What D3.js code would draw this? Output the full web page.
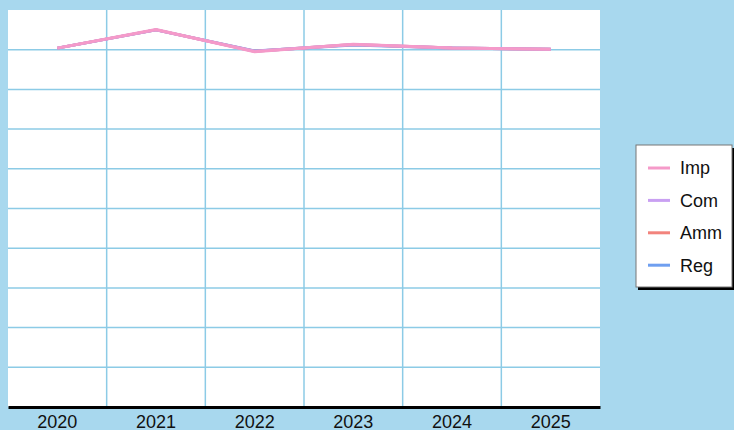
<!DOCTYPE html>
<html><head><meta charset="utf-8">
<script src="https://cdn.jsdelivr.net/npm/d3@7"></script>
<style>
html,body{margin:0;padding:0;background:#a8d8ee;}
svg{display:block;font-family:"Liberation Sans",Arial,sans-serif;}
</style></head>
<body>
<svg id="c" width="734" height="430"></svg>
<script>
const years = ["2020","2021","2022","2023","2024","2025"];
const seriesNames = ["Imp","Com","Amm","Reg"];
const seriesColors = ["#f59ac9","#c9a0f2","#f2837c","#6f9ff0"];
const impValues = [90.4, 95.1, 89.5, 91.4, 90.4, 90.1];
const comValues = [90.4, 95.0, 89.6, 91.3, 90.4, 90.1];
const ammValues = [90.4, 95.0, 89.6, 91.3, 90.4, 90.1];
const regValues = [90.4, 95.0, 89.7, 91.2, 90.4, 90.1];
const yTicks = [0,10,20,30,40,50,60,70,80,90,100];

const series = [
  {name:"Reg", values:regValues, color:seriesColors[3]},
  {name:"Amm", values:ammValues, color:seriesColors[2]},
  {name:"Com", values:comValues, color:seriesColors[1]},
  {name:"Imp", values:impValues, color:seriesColors[0]}
];

const svg = d3.select("#c");
const L=8, R=600, T=10, B=407;
const x = d3.scaleBand().domain(years).range([L,R]);
const y = d3.scaleLinear().domain([0,100]).range([B,T]);

svg.append("rect").attr("x",L).attr("y",T).attr("width",R-L).attr("height",B-T).attr("fill","#fff");

const grid = svg.append("g").attr("stroke","#8ccbe6").attr("stroke-width",1.5);
grid.selectAll("line.h").data(yTicks.slice(1,-1)).enter().append("line")
  .attr("x1",L).attr("x2",R).attr("y1",d=>y(d)).attr("y2",d=>y(d));
grid.selectAll("line.v").data(years.slice(1)).enter().append("line")
  .attr("y1",T).attr("y2",B).attr("x1",d=>x(d)).attr("x2",d=>x(d));

const line = d3.line().x((d,i)=>x(years[i])+x.bandwidth()/2).y(d=>y(d));
svg.append("g").selectAll("path").data(series).enter().append("path")
  .attr("d",d=>line(d.values)).attr("fill","none")
  .attr("stroke",d=>d.color).attr("stroke-width",3).attr("stroke-linejoin","round");

const xAxis = svg.append("g").attr("transform",`translate(0,${B})`)
  .call(d3.axisBottom(x).tickSize(0).tickPadding(8));
xAxis.select(".domain").attr("stroke","#000").attr("stroke-width",3);
xAxis.selectAll("text").attr("font-size",18).attr("fill","#111").attr("font-family","Liberation Sans, Arial, sans-serif");

const lg = svg.append("g");
lg.append("rect").attr("x",638).attr("y",148).attr("width",96).attr("height",142).attr("fill","#000");
lg.append("rect").attr("x",636).attr("y",145).attr("width",96).attr("height",142).attr("fill","#fff").attr("stroke","#777").attr("stroke-width",1);
const items = lg.selectAll("g.it").data(seriesNames).enter().append("g")
  .attr("transform",(d,i)=>`translate(0,${168+i*32.4})`);
items.append("line").attr("x1",648).attr("x2",670).attr("y1",0).attr("y2",0)
  .attr("stroke",(d,i)=>seriesColors[i]).attr("stroke-width",3);
items.append("text").attr("x",680).attr("y",0).attr("dy","0.35em")
  .attr("font-size",18).attr("fill","#111").text(d=>d);
</script>
</body></html>
